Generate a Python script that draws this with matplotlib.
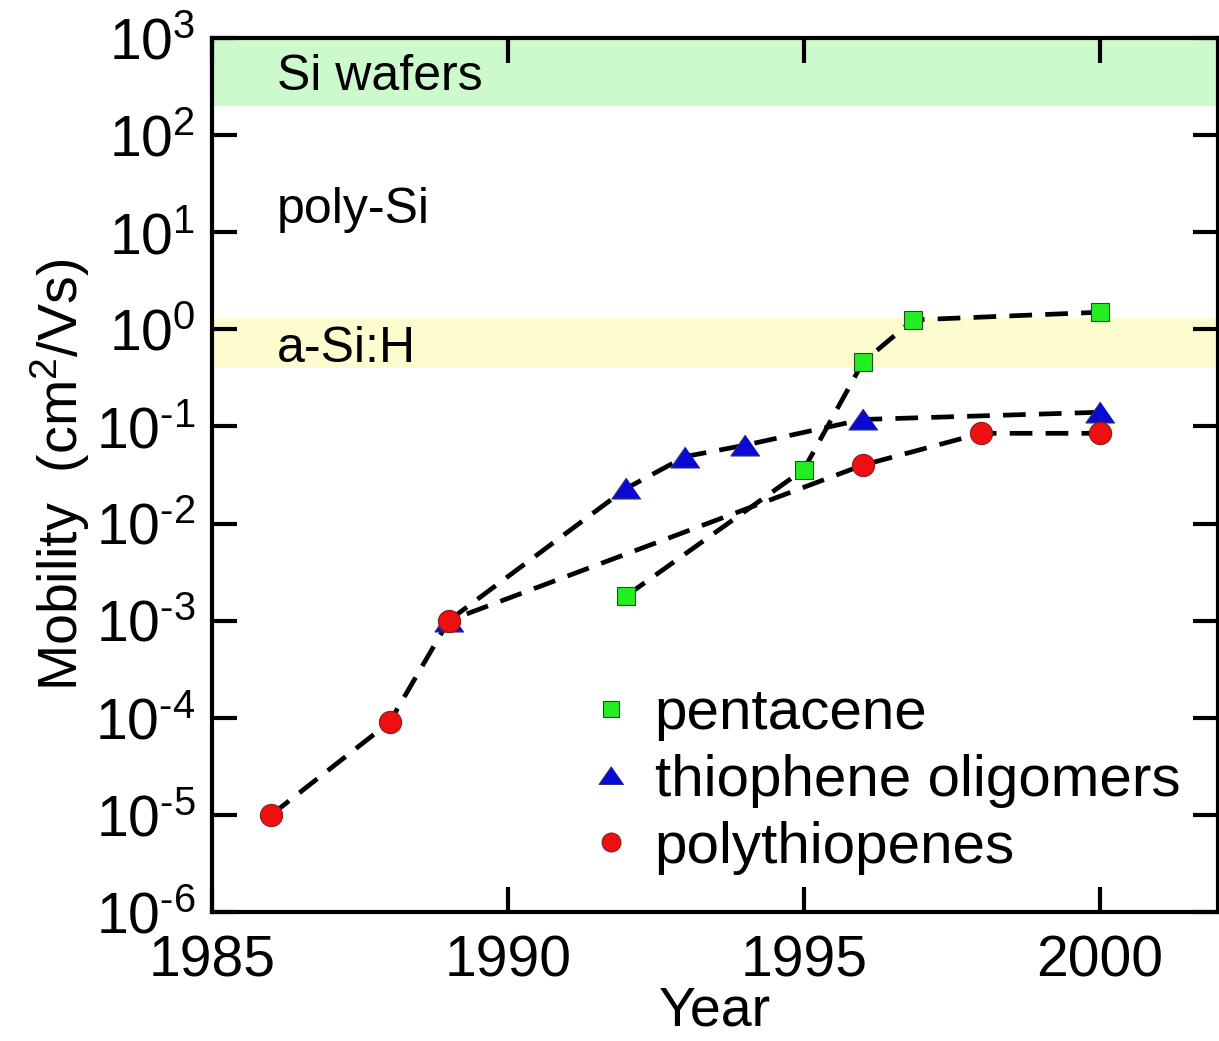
import math
import matplotlib
matplotlib.use("Agg")
import matplotlib.pyplot as plt
from matplotlib.ticker import FixedLocator, FuncFormatter, NullLocator

plt.rcParams['font.family'] = ['Liberation Sans', 'DejaVu Sans']
plt.rcParams['mathtext.fontset'] = 'custom'
plt.rcParams['mathtext.rm'] = 'Liberation Sans'
plt.rcParams['mathtext.it'] = 'Liberation Sans'

# data
pent_year = [1992, 1995, 1996, 1996.85, 2000]
pent_mob = [1.8e-3, 0.036, 0.46, 1.25, 1.5]

oligo_year = [1989, 1992, 1993, 1994, 1996, 2000]
oligo_mob = [1.0e-3, 0.023, 0.049, 0.064, 0.118, 0.14]

poly_year = [1986, 1988, 1989, 1996, 1998, 2000]
poly_mob = [1.0e-5, 9.0e-5, 1.0e-3, 0.04, 0.085, 0.085]

si_wafer_band = (200, 1000)
asi_band = (0.4, 1.3)

fig = plt.figure(figsize=(12.19, 10.41), dpi=100)
ax = fig.add_axes([212 / 1219, 1 - 912 / 1041, (1218 - 212) / 1219, (912 - 38) / 1041])

ax.set_yscale('log')
ax.set_xlim(1985, 2002)
ax.set_ylim(1e-6, 1e3)

ax.axhspan(*si_wafer_band, color='#ccfacc', zorder=0, lw=0)
ax.axhspan(*asi_band, color='#fdfcce', zorder=0, lw=0)

line_kw = dict(color='black', lw=3.4, ls=(0, (4.8, 2.8)), zorder=2)
ax.plot(pent_year, pent_mob, **line_kw)
ax.plot(oligo_year, oligo_mob, **line_kw)
ax.plot(poly_year, poly_mob, **line_kw)

tri = [(0, 0.72), (-1, -0.72), (1, -0.72)]
ax.plot(oligo_year, oligo_mob, ls='none', marker=tri, ms=21, mfc='#0a0ad0',
        mec='#303080', mew=0.8, zorder=3, label='thiophene oligomers')
ax.plot(poly_year, poly_mob, ls='none', marker='o', ms=16, mfc='#ee1010',
        mec='#802020', mew=0.8, zorder=4, label='polythiopenes')
ax.plot(pent_year, pent_mob, ls='none', marker='s', ms=13, mfc='#22ee22',
        mec='#205020', mew=0.8, zorder=5, label='pentacene')

h, l = ax.get_legend_handles_labels()
order = [2, 0, 1]
ax.legend([h[i] for i in order], [l[i] for i in order], loc='lower right',
          bbox_to_anchor=(1.003, -0.004), frameon=False, fontsize=42,
          handlelength=0.6, handletextpad=0.45, labelspacing=0.22,
          borderpad=0.2, markerscale=0.85)

ax.text(1986.1, 400, 'Si wafers', fontsize=36, va='center', ha='left')
ax.text(1986.1, 17, 'poly-Si', fontsize=36, va='center', ha='left')
ax.text(1986.1, 0.62, 'a-Si:H', fontsize=36, va='center', ha='left')

ax.xaxis.set_major_locator(FixedLocator([1985, 1990, 1995, 2000]))
ax.yaxis.set_major_locator(FixedLocator([10.0 ** k for k in range(-6, 4)]))
ax.yaxis.set_minor_locator(NullLocator())
ax.yaxis.set_major_formatter(FuncFormatter(
    lambda v, p: r'$\mathregular{10^{\text{%d}}}$' % round(math.log10(v))))

ax.tick_params(which='major', direction='in', length=18, width=3,
               top=True, right=True, labelsize=41)
ax.tick_params(axis='x', pad=16)
ax.tick_params(axis='y', pad=12)
for s in ax.spines.values():
    s.set_linewidth(3)

ax.set_xlabel('Year', fontsize=40, labelpad=-2)
ax.set_ylabel(r'Mobility  (cm$^{\mathregular{2}}$/Vs)', fontsize=40, labelpad=2)

fig.savefig('out.png', dpi=100)
